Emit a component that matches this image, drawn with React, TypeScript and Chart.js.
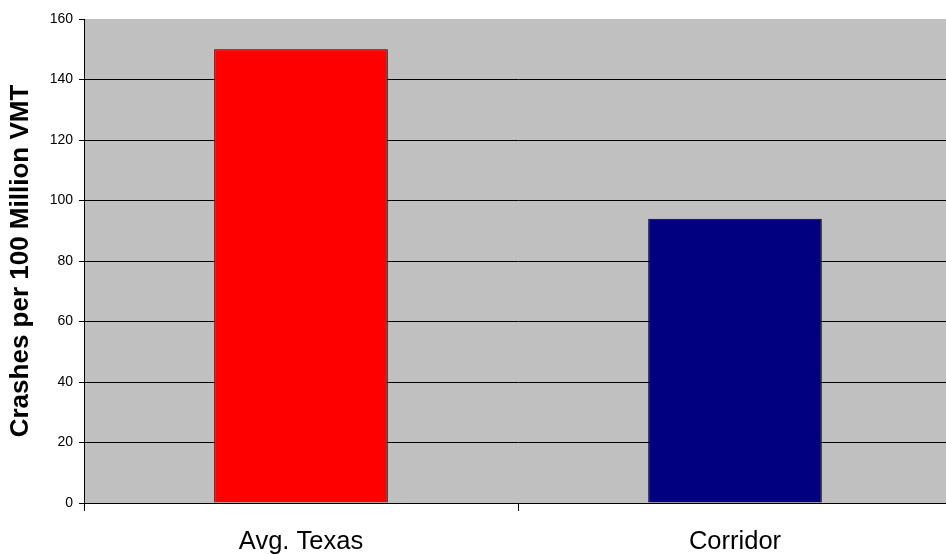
import React, { useEffect, useRef } from "react";
import { Chart, registerables } from "chart.js";

Chart.register(...registerables);

const categories = ["Avg. Texas", "Corridor"];
const values = [150, 94];
const barColors = ["#FF0000", "#000080"];
const yTicks = [0, 20, 40, 60, 80, 100, 120, 140, 160];
const yTitle = "Crashes per 100 Million VMT";

const FONT = "Arial, 'Liberation Sans', sans-serif";

const plotBg = {
  id: "plotBg",
  beforeDraw(chart: any) {
    const { ctx, chartArea } = chart;
    ctx.save();
    ctx.fillStyle = "#C0C0C0";
    ctx.fillRect(chartArea.left, chartArea.top, chartArea.right - chartArea.left, chartArea.bottom - chartArea.top);
    ctx.restore();
  },
};

export default function App() {
  const ref = useRef<HTMLCanvasElement>(null);
  useEffect(() => {
    document.body.style.margin = "0";
    const chart = new Chart(ref.current!, {
      type: "bar",
      data: {
        labels: categories,
        datasets: [
          {
            data: values,
            backgroundColor: barColors,
            borderColor: "#000",
            borderWidth: 1,
            categoryPercentage: 1,
            barPercentage: 0.4,
          },
        ],
      },
      plugins: [plotBg],
      options: {
        animation: false,
        responsive: false,
        maintainAspectRatio: false,
        layout: { padding: { top: 19, right: 4, left: 0, bottom: 0 } },
        plugins: { legend: { display: false }, tooltip: { enabled: false } },
        scales: {
          x: {
            afterFit: (s: any) => {
              s.height = 51;
            },
            grid: {
              offset: true,
              drawOnChartArea: false,
              tickLength: 8,
              tickColor: "#000",
              color: "#000",
            },
            border: { color: "#000", width: 1 },
            ticks: { color: "#000", font: { family: FONT, size: 25.5 }, padding: 16 },
          },
          y: {
            min: 0,
            max: 160,
            afterFit: (s: any) => {
              s.width = 84;
            },
            afterBuildTicks: (s: any) => {
              s.ticks = yTicks.map((v) => ({ value: v }));
            },
            grid: {
              color: (c: any) => (c.tick && c.tick.value === 160 ? "rgba(0,0,0,0)" : "#000"),
              tickColor: "#000",
              tickLength: 5,
            },
            border: { color: "#000", width: 1 },
            ticks: { color: "#000", font: { family: FONT, size: 14 }, padding: 6, stepSize: 20 },
            title: {
              display: true,
              text: yTitle,
              color: "#000",
              font: { family: FONT, size: 26, weight: "bold" },
              padding: { top: 5, bottom: 0 },
            },
          },
        },
      },
    });
    return () => chart.destroy();
  }, []);
  return (
    <div style={{ position: "fixed", left: 0, top: 0, width: 946, height: 554, overflow: "hidden", background: "#fff" }}>
      <canvas ref={ref} width={956} height={554} style={{ display: "block" }} />
    </div>
  );
}
